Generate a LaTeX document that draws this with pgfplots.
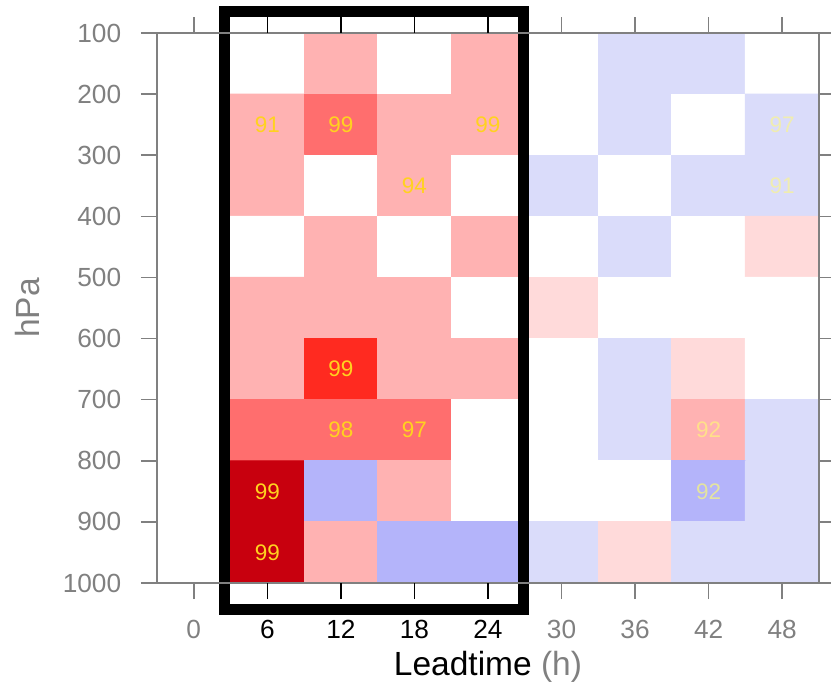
\documentclass[border=0pt]{standalone}
\usepackage{pgfplots}
\pgfplotsset{compat=1.18}
\usepackage{pgfplotstable}
\usepackage{fontspec}
\setmainfont{Liberation Sans}
\usetikzlibrary{calc}
\definecolor{axgray}{HTML}{808080}
\definecolor{gold}{HTML}{FFD21F}
\definecolor{paleA}{HTML}{F0EDB0}
\definecolor{paleB}{HTML}{FFE08A}
\definecolor{paleC}{HTML}{E4E4A0}

\pgfplotstableread{
x y c
6 150 0
12 150 2
18 150 0
24 150 2
30 150 0
36 150 6
42 150 6
48 150 0
6 250 2
12 250 3
18 250 2
24 250 2
30 250 0
36 250 6
42 250 0
48 250 6
6 350 2
12 350 0
18 350 2
24 350 0
30 350 6
36 350 0
42 350 6
48 350 6
6 450 0
12 450 2
18 450 0
24 450 2
30 450 0
36 450 6
42 450 0
48 450 1
6 550 2
12 550 2
18 550 2
24 550 0
30 550 1
36 550 0
42 550 0
48 550 0
6 650 2
12 650 4
18 650 2
24 650 2
30 650 0
36 650 6
42 650 1
48 650 0
6 750 3
12 750 3
18 750 3
24 750 0
30 750 0
36 750 6
42 750 2
48 750 6
6 850 5
12 850 7
18 850 2
24 850 0
30 850 0
36 850 0
42 850 7
48 850 6
6 950 5
12 950 2
18 950 7
24 950 7
30 950 6
36 950 1
42 950 6
48 950 6
}\cells

\pgfplotstableread{
x y lab
6 250 91
12 250 99
24 250 99
18 350 94
12 650 99
12 750 98
18 750 97
6 850 99
6 950 99
}\goldlabels

\pgfplotstableread{
x y lab
48 250 97
48 350 91
}\palelabels

\begin{document}
\begin{tikzpicture}
\begin{axis}[
  name=ax,
  scale only axis, width=264.8pt, height=220pt,
  xmin=-3, xmax=51, ymin=100, ymax=1000, y dir=reverse,
  axis line style={axgray, line width=0.6pt},
  tick align=outside, major tick length=6.4pt,
  tick style={axgray, line width=0.6pt},
  xtick={0,30,36,42,48}, xticklabels={0,30,36,42,48},
  extra x ticks={6,12,18,24}, extra x tick labels={6,12,18,24},
  extra x tick style={major tick style={draw=black}, xticklabel style={text=black}},
  ytick={100,200,300,400,500,600,700,800,900,1000},
  yticklabels={100,200,300,400,500,600,700,800,900,1000},
  ticklabel style={font=\fontsize{10.5}{12}\selectfont, text=axgray},
  xticklabel style={yshift=-4.8pt},
  yticklabel style={xshift=-4.4pt},
  /pgf/number format/assume math mode=true,
  xlabel={Leadtime \textcolor{axgray}{(h)}},
  xlabel style={font=\fontsize{13.4}{15}\selectfont, at={(axis description cs:0.5,-0.152)}, anchor=center},
  ylabel={hPa},
  ylabel style={font=\fontsize{13.4}{15}\selectfont, text=axgray, at={(axis description cs:-0.196,0.5)}, anchor=center, rotate=0},
  colormap={cells}{rgb255=(255,255,255) rgb255=(255,218,218) rgb255=(255,178,178) rgb255=(255,110,110) rgb255=(255,42,32) rgb255=(200,0,14) rgb255=(218,220,250) rgb255=(180,180,250)},
  colormap access=direct,
  clip=false,
  axis on top,
  nodes near coords align={center},
]
\addplot[matrix plot*, mesh/cols=8, point meta=explicit, shader=flat corner] table[x=x, y=y, meta=c] {\cells};

\addplot[only marks, mark=none, nodes near coords, point meta=explicit symbolic,
  every node near coord/.style={anchor=center, font=\fontsize{9}{10}\selectfont, text=gold}]
  table[x=x, y=y, meta=lab] {\goldlabels};
\addplot[only marks, mark=none, nodes near coords, point meta=explicit symbolic,
  every node near coord/.style={anchor=center, font=\fontsize{9}{10}\selectfont, text=paleA}]
  table[x=x, y=y, meta=lab] {\palelabels};
\addplot[only marks, mark=none, nodes near coords, point meta=explicit symbolic,
  every node near coord/.style={anchor=center, font=\fontsize{9}{10}\selectfont, text=paleB}]
  table[x=x, y=y, meta=lab] {
x y lab
42 750 92
};
\addplot[only marks, mark=none, nodes near coords, point meta=explicit symbolic,
  every node near coord/.style={anchor=center, font=\fontsize{9}{10}\selectfont, text=paleC}]
  table[x=x, y=y, meta=lab] {
x y lab
42 850 92
};

\draw[black, line width=0.6pt] (axis cs:3,1000) -- (axis cs:27,1000);
\draw[black, line width=0.6pt] (axis cs:3,100) -- (axis cs:51,100);
\draw[black, line width=4.4pt, line join=miter] (axis cs:2.47,64) rectangle (axis cs:26.9,1044);
\end{axis}
\pgfresetboundingbox
\path[use as bounding box] ($(ax.south west)+(-62.8pt,-45.2pt)$) rectangle ($(ax.south west)+(269.6pt,233.2pt)$);
\end{tikzpicture}
\end{document}
